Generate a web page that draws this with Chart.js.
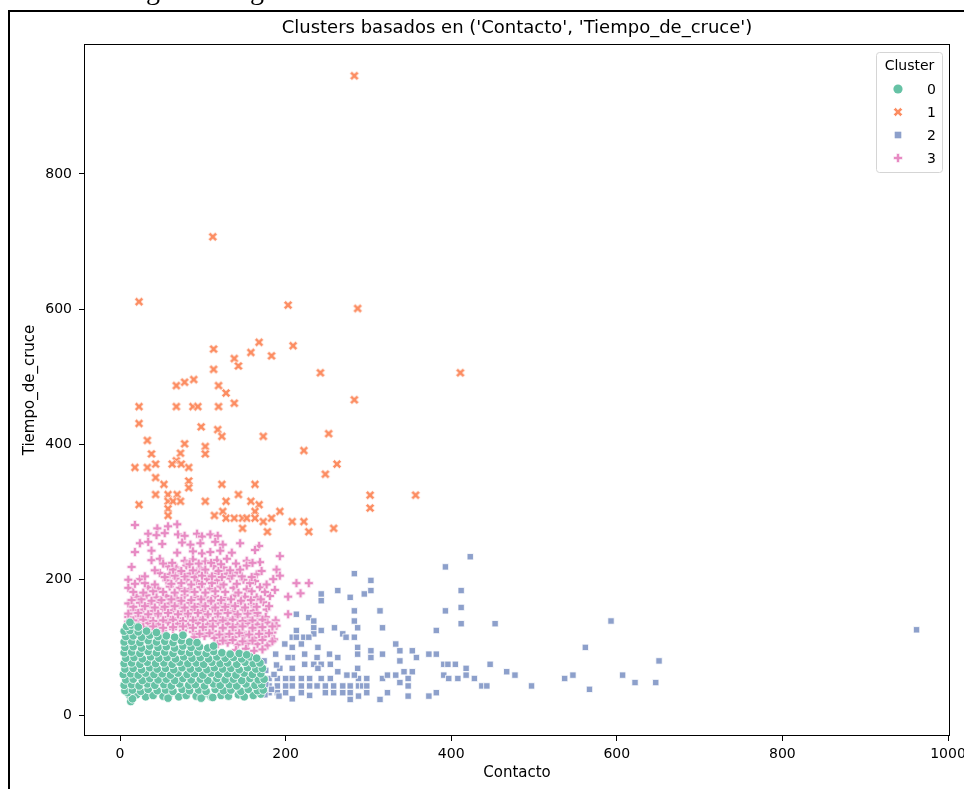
<!DOCTYPE html>
<html>
<head>
<meta charset="utf-8">
<title>Clusters basados en Contacto y Tiempo_de_cruce</title>
<script src="https://cdn.jsdelivr.net/npm/chart.js@4.4.1/dist/chart.umd.min.js"></script>
<style>
    html, body { margin: 0; padding: 0; background: #fff; }
    #wrap { position: relative; width: 964px; height: 789px; overflow: hidden; }
    #chart { display: block; }
    #frame { position: absolute; left: 8px; top: 10px; right: -10px; bottom: -10px; border-left: 2px solid #000; border-top: 2px solid #000; }
    .cut { position: absolute; top: -24px; font: 28px/28px "Liberation Serif", serif; color: #000; }
</style>
</head>
<body>
<div id="wrap">
    <canvas id="chart" width="964" height="789"></canvas>
    <div id="frame"></div>
    <span class="cut" style="left:146px">g</span>
    <span class="cut" style="left:250px">g</span>
</div>
<script>
const titleText = "Clusters basados en ('Contacto', 'Tiempo_de_cruce')";
const xLabel = "Contacto";
const yLabel = "Tiempo_de_cruce";
const legendTitle = "Cluster";
const xTicks = [0, 200, 400, 600, 800, 1000];
const yTicks = [0, 200, 400, 600, 800];
const clusterLabels = ["0", "1", "2", "3"];
const clusterColors = ["#66c2a5", "#fc8d62", "#8da0cb", "#e78ac3"];

// cluster 0 (circles) - dense block, read row by row
const cluster0 = [
    [12, 28], [20, 30], [31, 27], [40, 29], [52, 28], [60, 31], [71, 27], [80, 29], [92, 28], [101, 30], [110, 27], [122, 29], [131, 28], [143, 30], [150, 27], [161, 29], [170, 31],
    [13, 20], [15, 24], [58, 25], [98, 25], [112, 26], [9, 33],
    [6, 36], [15, 37], [25, 35], [34, 38], [45, 36], [55, 37], [64, 35], [75, 38], [84, 36], [95, 37], [104, 35], [115, 38], [125, 36], [134, 37], [146, 35], [155, 38], [166, 36], [173, 37],
    [5, 44], [14, 45], [23, 43], [33, 46], [42, 44], [53, 45], [62, 43], [72, 46], [83, 44], [91, 45], [102, 43], [113, 46], [121, 44], [132, 45], [141, 43], [152, 46], [163, 44], [171, 45],
    [7, 52], [16, 53], [27, 51], [36, 54], [46, 52], [56, 53], [66, 51], [76, 54], [86, 52], [97, 53], [106, 51], [117, 54], [127, 52], [137, 53], [147, 51], [157, 54], [167, 52], [174, 53],
    [4, 60], [13, 61], [22, 59], [31, 62], [41, 60], [51, 61], [61, 59], [70, 62], [81, 60], [90, 61], [100, 59], [110, 62], [119, 60], [130, 61], [140, 59], [150, 62], [160, 60], [170, 61],
    [6, 68], [16, 69], [26, 67], [36, 70], [45, 68], [55, 69], [65, 67], [75, 70], [85, 68], [95, 69], [105, 67], [114, 70], [124, 68], [134, 69], [144, 67], [154, 70], [164, 68], [172, 69],
    [5, 76], [14, 77], [24, 75], [33, 78], [43, 76], [53, 77], [63, 75], [72, 78], [82, 76], [92, 77], [101, 75], [111, 78], [121, 76], [130, 77], [141, 75], [151, 78], [161, 76], [169, 77],
    [7, 84], [17, 85], [27, 83], [37, 86], [47, 84], [57, 85], [67, 83], [77, 86], [87, 84], [97, 85], [107, 83], [117, 86], [127, 84], [137, 85], [147, 83], [157, 86], [165, 84],
    [5, 92], [14, 93], [24, 91], [34, 94], [44, 92], [54, 93], [64, 91], [74, 94], [84, 92], [94, 93], [104, 91], [113, 94], [123, 92], [133, 90], [144, 91], [153, 89],
    [6, 100], [16, 101], [26, 99], [36, 102], [46, 100], [56, 101], [66, 99], [76, 102], [86, 100], [96, 101], [106, 99], [113, 102],
    [5, 108], [14, 109], [24, 107], [34, 110], [44, 108], [54, 109], [64, 107], [74, 110], [84, 108], [93, 107],
    [7, 116], [16, 117], [26, 115], [36, 118], [46, 116], [56, 117], [66, 115], [76, 118],
    [5, 124], [12, 125], [22, 123], [32, 124], [44, 122],
    [8, 131], [14, 133], [22, 130], [12, 137]
];

// cluster 1 (X) - scattered high values
const cluster1 = [
    [283, 945], [112, 707], [23, 611], [203, 606], [287, 601], [168, 551], [209, 546], [113, 541], [158, 536], [183, 531],
    [138, 527], [143, 516], [113, 511], [242, 506], [411, 506], [89, 496], [78, 492], [68, 487], [119, 487], [128, 476],
    [283, 466], [138, 461], [23, 456], [68, 456], [88, 456], [94, 456], [119, 456], [23, 431], [98, 426], [118, 422],
    [252, 416], [123, 412], [173, 412], [33, 406], [78, 401], [103, 397], [73, 387], [38, 386], [103, 386], [222, 391],
    [68, 376], [63, 371], [74, 371], [43, 371], [262, 371], [18, 366], [33, 366], [83, 366], [248, 356], [43, 351],
    [83, 346], [53, 341], [123, 341], [163, 341], [83, 336], [43, 326], [58, 326], [69, 326], [143, 326], [302, 325],
    [357, 325], [103, 316], [128, 316], [158, 316], [58, 316], [64, 316], [73, 316], [23, 311], [168, 311], [302, 306],
    [58, 305], [124, 301], [163, 301], [193, 301], [114, 295], [58, 295], [128, 291], [138, 291], [148, 291], [153, 291],
    [163, 291], [183, 291], [173, 286], [208, 286], [222, 286], [148, 276], [178, 271], [228, 271], [258, 276]
];

// cluster 2 (squares) - long tail to the right
const cluster2 = [
    [423, 234], [393, 219], [283, 209], [303, 199], [303, 184], [295, 179], [412, 184], [263, 184], [243, 179], [243, 169],
    [278, 174], [283, 154], [314, 154], [393, 154], [412, 159], [283, 139], [412, 135], [453, 135], [593, 139], [213, 149],
    [228, 144], [234, 139], [234, 129], [243, 125], [259, 129], [287, 129], [317, 129], [382, 125], [213, 125], [269, 120],
    [273, 115], [283, 115], [234, 120], [208, 115], [213, 115], [222, 115], [228, 115], [199, 105], [219, 105], [208, 100],
    [239, 100], [287, 100], [333, 105], [338, 95], [353, 95], [303, 95], [287, 90], [303, 85], [317, 90], [358, 85],
    [373, 90], [382, 90], [562, 100], [651, 80], [338, 80], [263, 85], [253, 90], [238, 85], [223, 90], [208, 85],
    [203, 85], [188, 90], [174, 80], [223, 75], [234, 75], [243, 75], [254, 75], [239, 69], [263, 64], [287, 69],
    [343, 64], [353, 64], [391, 75], [396, 75], [405, 75], [418, 69], [447, 75], [467, 64], [477, 59], [391, 59],
    [397, 54], [408, 54], [418, 59], [428, 54], [437, 43], [443, 43], [497, 43], [537, 54], [547, 59], [567, 38],
    [607, 59], [622, 48], [647, 48], [382, 33], [373, 28], [348, 28], [348, 43], [338, 48], [348, 54], [323, 33],
    [314, 23], [298, 33], [298, 54], [288, 54], [317, 54], [333, 59], [323, 59], [283, 59], [274, 59], [278, 43],
    [269, 43], [258, 43], [248, 43], [238, 43], [288, 43], [293, 43], [298, 43], [278, 33], [269, 33], [258, 33],
    [248, 33], [278, 23], [288, 28], [229, 29], [219, 33], [208, 24], [229, 43], [219, 43], [208, 43], [200, 43],
    [190, 43], [180, 43], [200, 33], [190, 33], [180, 33], [229, 54], [219, 54], [208, 54], [200, 54], [190, 54],
    [180, 54], [175, 54], [243, 54], [254, 54], [208, 69], [193, 69], [189, 74], [176, 66], [176, 45], [186, 60],
    [183, 38], [192, 28], [175, 30], [962, 126]
];

// cluster 3 (plus) - band above cluster 0
const cluster3 = [
    [18, 281], [58, 279], [69, 282], [45, 276],
    [34, 268], [44, 266], [54, 269], [70, 267], [78, 265], [93, 268], [99, 264], [109, 267], [118, 265],
    [24, 254], [34, 256], [51, 253], [75, 255], [85, 252], [97, 254], [115, 256], [124, 252], [145, 254], [168, 250],
    [18, 241], [38, 243], [69, 240], [88, 242], [99, 239], [109, 241], [121, 243], [135, 240], [163, 244], [193, 235],
    [38, 229], [48, 231], [78, 228], [88, 230], [103, 227], [117, 229], [129, 231], [153, 228], [169, 226],
    [14, 219], [58, 220], [68, 218], [80, 221], [97, 217], [113, 220], [125, 218], [153, 221], [189, 215],
    [48, 210], [60, 208], [72, 211], [84, 209], [93, 212], [105, 207], [117, 210], [129, 209], [141, 211], [165, 208],
    [10, 200], [24, 201], [56, 199], [68, 202], [80, 200], [93, 198], [105, 201], [117, 199], [133, 202], [149, 200], [163, 198], [185, 201], [193, 206],
    [10, 188], [34, 189], [46, 187], [60, 190], [72, 188], [84, 186], [97, 189], [109, 187], [121, 190], [137, 188], [153, 186], [169, 189], [187, 185], [203, 175],
    [20, 175], [32, 177], [44, 174], [56, 176], [68, 173], [78, 177], [91, 175], [103, 174], [115, 176], [127, 173], [139, 177], [151, 175], [165, 174], [181, 176], [218, 180], [213, 195], [228, 195],
    [10, 165], [24, 166], [36, 164], [48, 167], [60, 165], [72, 163], [84, 166], [97, 164], [109, 167], [121, 165], [133, 163], [145, 166], [159, 164], [173, 167],
    [16, 155], [28, 156], [40, 154], [52, 157], [64, 155], [76, 153], [88, 156], [100, 154], [112, 157], [125, 155], [137, 153], [149, 156], [161, 154], [177, 156], [203, 149],
    [10, 145], [22, 146], [34, 144], [46, 147], [58, 145], [70, 143], [82, 146], [94, 144], [106, 147], [118, 145], [130, 143], [142, 146], [154, 144], [166, 147], [176, 145], [188, 140],
    [10, 138], [22, 135], [34, 136], [46, 134], [58, 137], [70, 135], [82, 133], [94, 136], [106, 134], [118, 137], [130, 135], [142, 133], [154, 136], [166, 134], [178, 137], [189, 132],
    [40, 126], [52, 124], [64, 127], [76, 125], [88, 123], [100, 126], [112, 124], [124, 127], [136, 125], [148, 123], [160, 126], [172, 124], [184, 122],
    [90, 115], [102, 117], [114, 114], [126, 116], [138, 115], [150, 117], [162, 114], [174, 116], [186, 112],
    [118, 105], [130, 107], [142, 104], [154, 106], [166, 105], [178, 103],
    [140, 96], [152, 98], [162, 95], [172, 97],
    // filling the dense core between the rows above
    [16, 140], [28, 141], [40, 139], [52, 140], [64, 141], [76, 139], [88, 140], [100, 141], [112, 139], [124, 140], [136, 141], [148, 139], [160, 140], [172, 141],
    [10, 150], [22, 151], [34, 149], [46, 150], [58, 151], [70, 149], [82, 150], [94, 151], [106, 149], [118, 150], [130, 151], [142, 149], [154, 150], [166, 151],
    [16, 160], [30, 161], [42, 159], [54, 160], [66, 161], [78, 159], [90, 160], [103, 161], [115, 159], [127, 160], [139, 161], [151, 159], [165, 160], [180, 161],
    [14, 170], [26, 171], [38, 169], [50, 170], [62, 171], [74, 169], [86, 170], [98, 171], [110, 169], [122, 170], [134, 171], [146, 169], [158, 170], [170, 171],
    [16, 182], [28, 181], [40, 183], [52, 182], [66, 181], [78, 183], [90, 182], [103, 181], [115, 183], [127, 182], [143, 181], [159, 183], [175, 182],
    [18, 194], [30, 195], [42, 193], [62, 194], [74, 195], [86, 193], [99, 194], [111, 195], [125, 193], [141, 194], [157, 195], [177, 193],
    [30, 205], [54, 204], [66, 206], [78, 205], [90, 204], [99, 206], [111, 205], [123, 204], [135, 206], [147, 205], [159, 204],
    [42, 214], [64, 215], [74, 213], [88, 214], [103, 215], [119, 213], [133, 214], [145, 215], [171, 213],
    [52, 224], [63, 225], [84, 223], [95, 224], [110, 225], [122, 223], [140, 224], [160, 225],
    [28, 130], [40, 131], [52, 129], [64, 130], [76, 131], [88, 129], [100, 130], [112, 131], [124, 129], [136, 130], [148, 131], [160, 129], [172, 130], [184, 131],
    [96, 120], [108, 121], [120, 119], [132, 120], [144, 121], [156, 119], [168, 120], [180, 121],
    [124, 110], [136, 111], [148, 109], [160, 110], [172, 111], [184, 109]
];

const fontFamily = "'DejaVu Sans', sans-serif";

// filled plus / X markers like seaborn's "P" and "X"
function makeMarker(color, rotated) {
    const c = document.createElement("canvas");
    c.width = 12;
    c.height = 12;
    const g = c.getContext("2d");
    const h = rotated ? 4.9 : 4.5, a = 1.55;
    const pts = [[-a, -h], [a, -h], [a, -a], [h, -a], [h, a], [a, a], [a, h], [-a, h], [-a, a], [-h, a], [-h, -a], [-a, -a]];
    g.translate(6, 6);
    if (rotated) g.rotate(Math.PI / 4);
    g.beginPath();
    pts.forEach((p, i) => i ? g.lineTo(p[0], p[1]) : g.moveTo(p[0], p[1]));
    g.closePath();
    g.fillStyle = color;
    g.fill();
    g.strokeStyle = "rgba(255,255,255,0.85)";
    g.lineWidth = 0.7;
    g.stroke();
    return c;
}

const xMarker = makeMarker(clusterColors[1], true);
const plusMarker = makeMarker(clusterColors[3], false);
const toXY = pts => pts.map(p => ({ x: p[0], y: p[1] }));

const datasets = [
    { label: clusterLabels[0], data: toXY(cluster0), pointStyle: "circle", pointRadius: 4.3, backgroundColor: clusterColors[0], borderColor: "#ffffff", borderWidth: 0.8 },
    { label: clusterLabels[1], data: toXY(cluster1), pointStyle: xMarker, pointRadius: 5, backgroundColor: clusterColors[1], borderWidth: 0 },
    { label: clusterLabels[2], data: toXY(cluster2), pointStyle: "rect", pointRadius: 4.5, backgroundColor: clusterColors[2], borderColor: "#ffffff", borderWidth: 0.8 },
    { label: clusterLabels[3], data: toXY(cluster3), pointStyle: plusMarker, pointRadius: 5, backgroundColor: clusterColors[3], borderWidth: 0 }
];

const decorPlugin = {
    id: "decor",
    afterDraw(chart) {
        const ctx = chart.ctx;
        const a = chart.chartArea;
        ctx.save();
        // spines
        ctx.strokeStyle = "#000";
        ctx.lineWidth = 1;
        ctx.strokeRect(Math.round(a.left) + 0.5, Math.round(a.top) + 0.5, Math.round(a.right - a.left) - 1, Math.round(a.bottom - a.top) - 1);

        // title centred over the axes
        ctx.fillStyle = "#000";
        ctx.font = "18px " + fontFamily;
        ctx.textAlign = "center";
        ctx.textBaseline = "middle";
        ctx.fillText(titleText, (a.left + a.right) / 2, 28);

        // legend box
        const lx = 876.5, ly = 52.5, lw = 66, lh = 120;
        ctx.beginPath();
        ctx.roundRect(lx, ly, lw, lh, 3);
        ctx.fillStyle = "rgba(255,255,255,0.8)";
        ctx.fill();
        ctx.strokeStyle = "#d5d5d5";
        ctx.stroke();

        ctx.fillStyle = "#000";
        ctx.font = "14px " + fontFamily;
        ctx.fillText(legendTitle, lx + lw / 2, 66);

        clusterLabels.forEach((lab, i) => {
            const y = 89 + i * 23;
            const mx = 898;
            if (i === 0) {
                ctx.beginPath();
                ctx.arc(mx, y, 4.6, 0, Math.PI * 2);
                ctx.fillStyle = clusterColors[0];
                ctx.fill();
            } else if (i === 1) {
                ctx.drawImage(xMarker, mx - 6, y - 6);
            } else if (i === 2) {
                ctx.fillStyle = clusterColors[2];
                ctx.fillRect(mx - 3.3, y - 3.3, 6.6, 6.6);
            } else {
                ctx.drawImage(plusMarker, mx - 6, y - 6);
            }
            ctx.fillStyle = "#000";
            ctx.textAlign = "left";
            ctx.fillText(lab, 927, y + 1);
            ctx.textAlign = "center";
        });
        ctx.restore();
    }
};

const axisFont = { family: fontFamily, size: 14 };

new Chart(document.getElementById("chart").getContext("2d"), {
    type: "scatter",
    data: { datasets: datasets },
    options: {
        responsive: false,
        animation: false,
        events: [],
        layout: { padding: { left: 0, right: 14, top: 44, bottom: 0 } },
        plugins: {
            legend: { display: false },
            title: { display: false },
            tooltip: { enabled: false }
        },
        scales: {
            x: {
                type: "linear",
                min: -43.5,
                max: 1002.4,
                afterBuildTicks: axis => { axis.ticks = xTicks.map(v => ({ value: v })); },
                afterFit: axis => { axis.height = 53; axis.paddingLeft = 0; axis.paddingRight = 0; },
                border: { display: false },
                grid: { drawOnChartArea: false, drawTicks: true, tickLength: 5, tickColor: "#000", tickWidth: 1 },
                ticks: { color: "#000", font: axisFont, padding: 5, maxRotation: 0, autoSkip: false, callback: v => String(v) },
                title: { display: true, text: xLabel, color: "#000", font: { family: fontFamily, size: 15 }, padding: { top: 0, bottom: 7 } }
            },
            y: {
                type: "linear",
                min: -31,
                max: 992,
                afterBuildTicks: axis => { axis.ticks = yTicks.map(v => ({ value: v })); },
                afterFit: axis => { axis.width = 84; axis.paddingTop = 0; axis.paddingBottom = 0; },
                border: { display: false },
                grid: { drawOnChartArea: false, drawTicks: true, tickLength: 5, tickColor: "#000", tickWidth: 1 },
                ticks: { color: "#000", font: axisFont, padding: 7, autoSkip: false, callback: v => String(v) },
                title: { display: true, text: yLabel, color: "#000", font: { family: fontFamily, size: 15 }, padding: { top: 21, bottom: 0 } }
            }
        }
    },
    plugins: [decorPlugin]
});
</script>
</body>
</html>
